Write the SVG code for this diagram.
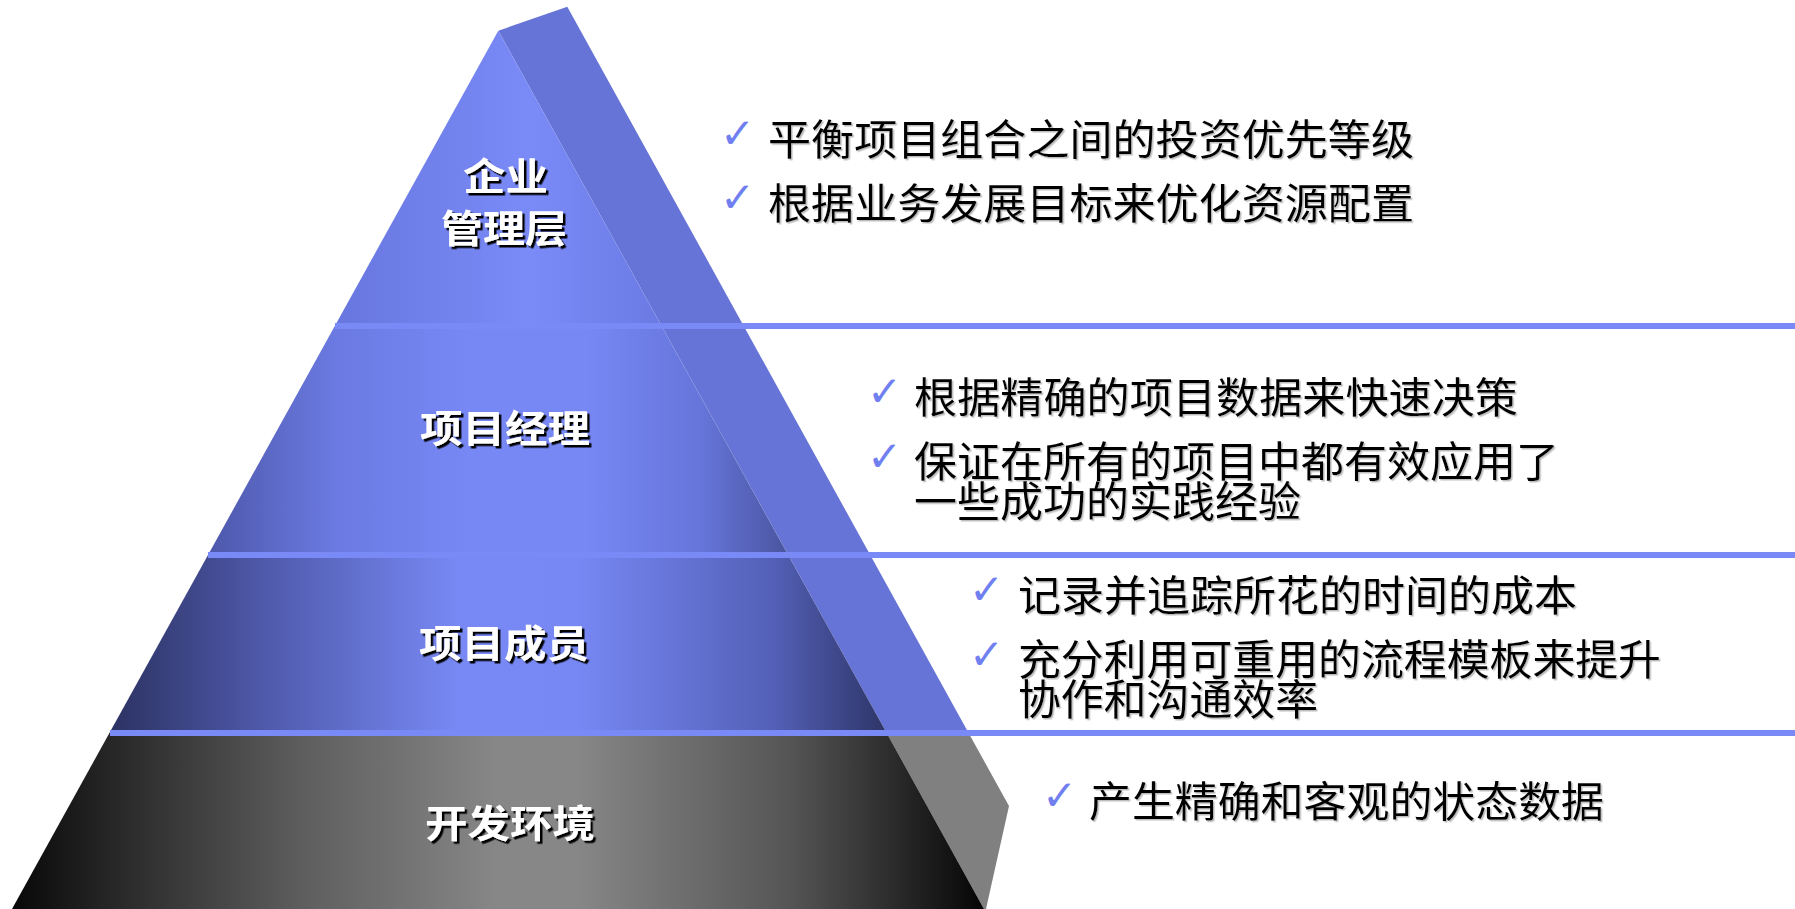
<svg xmlns="http://www.w3.org/2000/svg" width="1795" height="909" viewBox="0 0 1795 909">
  <defs>
    <linearGradient id="g1" gradientUnits="userSpaceOnUse" x1="335" y1="0" x2="662" y2="0">
      <stop offset="0" stop-color="#6877df"/>
      <stop offset="0.6" stop-color="#7a8af7"/>
      <stop offset="1" stop-color="#6b7ae3"/>
    </linearGradient>
    <linearGradient id="g2" gradientUnits="userSpaceOnUse" x1="208" y1="0" x2="788" y2="0">
      <stop offset="0" stop-color="#4d58aa"/>
      <stop offset="0.22" stop-color="#6b7ae2"/>
      <stop offset="0.45" stop-color="#7788f5"/>
      <stop offset="0.65" stop-color="#7788f5"/>
      <stop offset="0.85" stop-color="#6675da"/>
      <stop offset="1" stop-color="#4a559f"/>
    </linearGradient>
    <linearGradient id="g3" gradientUnits="userSpaceOnUse" x1="110" y1="0" x2="887" y2="0">
      <stop offset="0" stop-color="#2c3262"/>
      <stop offset="0.2" stop-color="#4f5aab"/>
      <stop offset="0.45" stop-color="#7889f5"/>
      <stop offset="0.6" stop-color="#7788f4"/>
      <stop offset="0.85" stop-color="#5461b8"/>
      <stop offset="1" stop-color="#2e3568"/>
    </linearGradient>
    <linearGradient id="g4" gradientUnits="userSpaceOnUse" x1="12" y1="0" x2="984" y2="0">
      <stop offset="0" stop-color="#080808"/>
      <stop offset="0.1" stop-color="#262626"/>
      <stop offset="0.3" stop-color="#5e5e5e"/>
      <stop offset="0.5" stop-color="#878787"/>
      <stop offset="0.58" stop-color="#878787"/>
      <stop offset="0.8" stop-color="#555555"/>
      <stop offset="0.9" stop-color="#2e2e2e"/>
      <stop offset="1" stop-color="#050505"/>
    </linearGradient>
    <filter id="shLabel" x="-10%" y="-20%" width="130%" height="150%">
      <feDropShadow dx="2.5" dy="2.5" stdDeviation="0" flood-color="#000000" flood-opacity="1"/>
    </filter>
    <filter id="shText" x="-5%" y="-20%" width="115%" height="150%">
      <feDropShadow dx="1.5" dy="1.5" stdDeviation="0.3" flood-color="#909090" flood-opacity="0.6"/>
    </filter>
  </defs>
  <style>
    .label { font-family: "Noto Sans CJK SC", "Noto Sans", sans-serif; font-size: 38px; font-weight: bold; fill: #ffffff; filter: url(#shLabel); }
    .txt { font-family: "Noto Sans CJK SC", "Noto Sans", sans-serif; font-size: 42px; fill: #000000; filter: url(#shText); }
    .chk { font-family: "DejaVu Sans", sans-serif; font-size: 42px; font-weight: bold; fill: #7080f0; }
    .sep { fill: #798af6; }
    .back { fill: #6574d6; }
    .backgray { fill: #808080; }
  </style>

  <g id="back-face">
    <polygon class="back" points="498.3,30.7 567.3,6.7 968.6,733 886.7,733"/>
    <polygon class="backgray" points="886.7,733 968.6,733 1009,806 986,909 984,909"/>
  </g>

  <g id="layer-enterprise">
    <polygon points="498.3,30.7 661.6,326 334.8,326" fill="url(#g1)"/>
    <text class="label" x="463" y="190" textLength="85" lengthAdjust="spacingAndGlyphs">企业</text>
    <text class="label" x="441" y="242" textLength="126" lengthAdjust="spacingAndGlyphs">管理层</text>
  </g>

  <g id="layer-pm">
    <polygon points="334.8,326 661.6,326 788.2,555 208,555" fill="url(#g2)"/>
    <text class="label" x="420" y="442" textLength="170" lengthAdjust="spacingAndGlyphs">项目经理</text>
  </g>

  <g id="layer-member">
    <polygon points="208,555 788.2,555 886.7,733 109.4,733" fill="url(#g3)"/>
    <text class="label" x="419" y="657" textLength="170" lengthAdjust="spacingAndGlyphs">项目成员</text>
  </g>

  <g id="layer-dev">
    <polygon points="109.4,733 886.7,733 984,909 12,909" fill="url(#g4)"/>
    <text class="label" x="425" y="837" textLength="170" lengthAdjust="spacingAndGlyphs">开发环境</text>
  </g>

  <g id="separators">
    <rect class="sep" x="335" y="323" width="1460" height="6"/>
    <rect class="sep" x="208" y="552" width="1587" height="6"/>
    <rect class="sep" x="110" y="730" width="1685" height="6"/>
  </g>

  <g id="bullets-enterprise">
    <text class="chk" x="720" y="148">✓</text>
    <text class="txt" x="768" y="155" textLength="646" lengthAdjust="spacingAndGlyphs">平衡项目组合之间的投资优先等级</text>
    <text class="chk" x="720" y="212">✓</text>
    <text class="txt" x="768" y="219" textLength="646" lengthAdjust="spacingAndGlyphs">根据业务发展目标来优化资源配置</text>
  </g>

  <g id="bullets-pm">
    <text class="chk" x="867" y="406">✓</text>
    <text class="txt" x="914" y="413" textLength="604" lengthAdjust="spacingAndGlyphs">根据精确的项目数据来快速决策</text>
    <text class="chk" x="867" y="471">✓</text>
    <text class="txt" x="914" y="477" textLength="645" lengthAdjust="spacingAndGlyphs">保证在所有的项目中都有效应用了</text>
    <text class="txt" x="914" y="517" textLength="387" lengthAdjust="spacingAndGlyphs">一些成功的实践经验</text>
  </g>

  <g id="bullets-member">
    <text class="chk" x="969" y="604">✓</text>
    <text class="txt" x="1018" y="611" textLength="559" lengthAdjust="spacingAndGlyphs">记录并追踪所花的时间的成本</text>
    <text class="chk" x="969" y="669">✓</text>
    <text class="txt" x="1018" y="675" textLength="643" lengthAdjust="spacingAndGlyphs">充分利用可重用的流程模板来提升</text>
    <text class="txt" x="1018" y="715" textLength="300" lengthAdjust="spacingAndGlyphs">协作和沟通效率</text>
  </g>

  <g id="bullets-dev">
    <text class="chk" x="1042" y="810">✓</text>
    <text class="txt" x="1089" y="817" textLength="515" lengthAdjust="spacingAndGlyphs">产生精确和客观的状态数据</text>
  </g>
</svg>
